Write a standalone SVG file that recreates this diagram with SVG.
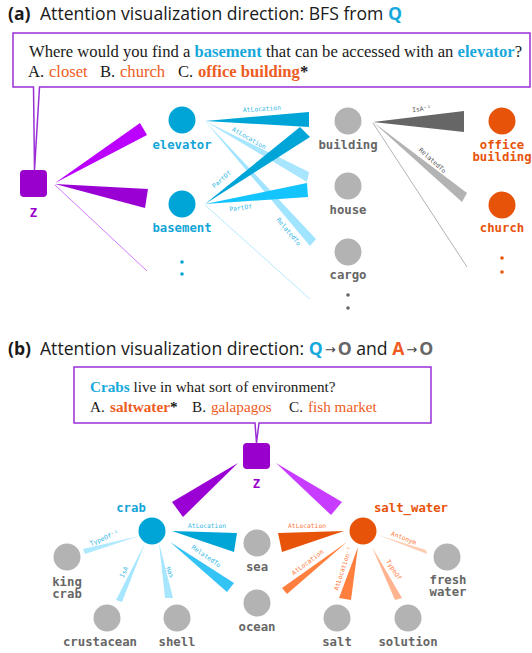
<svg xmlns="http://www.w3.org/2000/svg" width="532" height="653" viewBox="0 0 532 653">
<style>
.hd{font-family:"Open Sans","Noto Sans",sans-serif;font-size:17.6px;fill:#1a1a1a}
.hb{font-weight:bold}
.ar{font-family:"DejaVu Sans",sans-serif;font-size:13px;fill:#444}
.q{font-family:"Liberation Serif","Times New Roman",serif;font-size:16.6px;fill:#1a1a1a}
.q2{font-family:"Liberation Serif","Times New Roman",serif;font-size:15.2px;fill:#1a1a1a}
.cb{fill:#17a9dc;font-weight:bold}
.or{fill:#ee5c24}
.ob{fill:#ee5c24;font-weight:bold}
.nl{font-family:"DejaVu Sans Mono","Liberation Mono",monospace;font-weight:bold;font-size:12.3px;text-anchor:middle}
.nc{fill:#12a5d8}
.ng{fill:#666}
.no{fill:#e8530a}
.nz{fill:#9900cc}
.el{font-family:"DejaVu Sans Mono","Liberation Mono",monospace;font-size:6.3px;text-anchor:middle}
.elc{fill:#35b8e6}
.elg{fill:#555}
.elo{fill:#ff7a3a}
.box{fill:#fff;stroke:#9a2fd6;stroke-width:1.5}
.cC{fill:#00a5d8}
.cG{fill:#b3b3b3}
.cO{fill:#e8530a}
.zb{fill:#9900cc}
</style>

<!-- headers -->
<text class="hd hb" x="8" y="20">(a)</text>
<text class="hd" x="40" y="20">Attention visualization direction: BFS from <tspan class="hb" fill="#17a9dc">Q</tspan></text>

<text class="hd hb" x="8" y="355">(b)</text>
<text class="hd" x="40" y="355">Attention visualization direction: <tspan class="hb" fill="#17a9dc">Q</tspan><tspan class="ar" dx="2" dy="-1">→</tspan><tspan class="hb" fill="#666" dx="2" dy="1">O</tspan> and <tspan class="hb" fill="#ee5c24">A</tspan><tspan class="ar" dx="2" dy="-1">→</tspan><tspan class="hb" fill="#666" dx="2" dy="1">O</tspan></text>

<!-- callout (a) -->
<g id="callout-a">
<path class="box" d="M13,33 H530 V87 H39.5 L34.5,170 L33.5,87 H13 Z"/>
<text class="q" x="29" y="57">Where would you find a <tspan class="cb">basement</tspan> that can be accessed with an <tspan class="cb">elevator</tspan>?</text>
<text class="q" x="28" y="77">A. <tspan class="or" x="49">closet</tspan><tspan x="100">B. </tspan><tspan class="or" x="120">church</tspan><tspan x="178">C. </tspan><tspan class="ob" x="198">office building</tspan><tspan font-weight="bold">*</tspan></text>
</g>

<!-- callout (b) -->
<g id="callout-b">
<path class="box" d="M74,367 H431 V423 H259 L256.5,443 L255,423 H74 Z"/>
<text class="q2" x="90" y="392"><tspan class="cb">Crabs</tspan> live in what sort of environment?</text>
<text class="q2" x="90" y="412">A. <tspan class="ob" x="110">saltwater</tspan><tspan font-weight="bold">*</tspan><tspan x="192">B. </tspan><tspan class="or" x="211">galapagos</tspan><tspan x="289">C. </tspan><tspan class="or" x="308">fish market</tspan></text>
</g>

<!-- connectors -->
<g id="connectors">
<!-- (a) -->
<polygon points="55,183 140,123 147,135" fill="#bb00ff"/>
<polygon points="55,184 148,189 145,208" fill="#9a00d4"/>
<line x1="55" y1="185" x2="147" y2="271" stroke="#d27aff" stroke-width="1"/>

<polygon points="205,121 309,172 307,182" fill="#a8e6ff"/>
<polygon points="205,121 316,239 310,246" fill="#a0e4ff"/>
<line x1="205" y1="205" x2="310" y2="299" stroke="#b5ebff" stroke-width="1"/>
<polygon points="205,204 307,183 308,197" fill="#14c4ff"/>
<polygon points="205,121 309,112 309,127" fill="#00a5d8"/>
<polygon points="205,204 300,127 310,137" fill="#00a5d8"/>

<polygon points="373,122 464,111 464,132" fill="#666"/>
<polygon points="373,122 467,193 462,202" fill="#b3b3b3"/>
<line x1="373" y1="123" x2="467" y2="267" stroke="#b3b3b3" stroke-width="1"/>

<text class="el elc" transform="translate(262,111) rotate(-4)">AtLocation</text>
<text class="el elc" transform="translate(248,140) rotate(30)">AtLocation</text>
<text class="el elc" transform="translate(287,233) rotate(50)">RelatedTo</text>
<text class="el elc" transform="translate(223,181) rotate(-42)">PartOf</text>
<text class="el elc" transform="translate(241,210) rotate(-8)">PartOf</text>
<text class="el elg" transform="translate(422,111) rotate(-8)">IsA⁻¹</text>
<text class="el elg" transform="translate(431,162) rotate(42)">RelatedTo</text>

<!-- (b) -->
<polygon points="238,463 172,502 183,517" fill="#9a00d4"/>
<polygon points="276,463 342,502 331,515" fill="#c83cff"/>
<polygon points="172,531 237,533 234,552" fill="#00a5d8"/>
<polygon points="170,542 234,583 227,592" fill="#33c3f5"/>
<polygon points="139,536 83,549 85,554" fill="#aee9ff"/>
<polygon points="145,543 116,600 122,602" fill="#a6e6ff"/>
<polygon points="159,543 165,598 173,598" fill="#a6e6ff"/>
<polygon points="344,531 278,533 282,552" fill="#e8530a"/>
<polygon points="347,542 282,588 287,594" fill="#ff7f3f"/>
<polygon points="358,547 339,598 351,600" fill="#ff7f3f"/>
<polygon points="372,547 395,600 402,598" fill="#ffb48f"/>
<polygon points="378,535 426,550 427,554" fill="#ffcdb3"/>

<text class="el elc" transform="translate(207,528)">AtLocation</text>
<text class="el elc" transform="translate(205,558) rotate(35)">RelatedTo</text>
<text class="el elc" transform="translate(105,540) rotate(-23)">TypeOf⁻¹</text>
<text class="el elc" transform="translate(126,573) rotate(-65)">IsA</text>
<text class="el elc" transform="translate(168,573) rotate(70)">Has</text>
<text class="el elo" transform="translate(307,528)">AtLocation</text>
<text class="el elo" transform="translate(309,564) rotate(-37)">AtLocation</text>
<text class="el elo" transform="translate(345,569) rotate(-72)">AtLocation⁻¹</text>
<text class="el elo" transform="translate(392,571) rotate(57)">TypeOf</text>
<text class="el elo" transform="translate(403,540) rotate(21)">Antonym</text>
</g>

<!-- nodes (a) -->
<g id="z-a"><rect class="zb" x="20" y="170" width="27" height="27" rx="4"/><text class="nl nz" x="33.5" y="217">Z</text></g>
<g id="elevator"><circle class="cC" cx="182" cy="120" r="13.5"/><text class="nl nc" x="182" y="149">elevator</text></g>
<g id="basement"><circle class="cC" cx="182" cy="204" r="13.5"/><text class="nl nc" x="182" y="232">basement</text></g>
<g id="dots-c"><circle class="cC" cx="182" cy="262" r="1.8"/><circle class="cC" cx="182" cy="274" r="1.8"/></g>
<g id="building"><circle class="cG" cx="348" cy="121" r="13.5"/><text class="nl ng" x="348" y="149">building</text></g>
<g id="house"><circle class="cG" cx="348" cy="186" r="13.5"/><text class="nl ng" x="348" y="214">house</text></g>
<g id="cargo"><circle class="cG" cx="348" cy="252" r="13.5"/><text class="nl ng" x="348" y="279">cargo</text></g>
<g id="dots-g"><circle fill="#666" cx="348" cy="295" r="1.8"/><circle fill="#666" cx="348" cy="308" r="1.8"/></g>
<g id="office-building"><circle class="cO" cx="502" cy="121" r="13.5"/><text class="nl no" x="502" y="148.5">office</text><text class="nl no" x="502" y="161">building</text></g>
<g id="church"><circle class="cO" cx="502" cy="205" r="13.5"/><text class="nl no" x="502" y="232">church</text></g>
<g id="dots-o"><circle class="cO" cx="502" cy="258" r="1.8"/><circle class="cO" cx="502" cy="272" r="1.8"/></g>

<!-- nodes (b) -->
<g id="z-b"><rect class="zb" x="243" y="443" width="27" height="26" rx="4"/><text class="nl nz" x="256.5" y="488">Z</text></g>
<g id="crab"><circle class="cC" cx="152" cy="531" r="13.5"/><text class="nl nc" x="131" y="512" font-size="13.5">crab</text></g>
<g id="salt_water"><circle class="cO" cx="363" cy="531" r="13.5"/><text class="nl no" x="411" y="512" font-size="13.5">salt_water</text></g>
<g id="king-crab"><circle class="cG" cx="67" cy="557" r="13.5"/><text class="nl ng" x="67" y="585.5">king</text><text class="nl ng" x="67" y="598">crab</text></g>
<g id="crustacean"><circle class="cG" cx="107" cy="618" r="13.5"/><text class="nl ng" x="100" y="646">crustacean</text></g>
<g id="shell"><circle class="cG" cx="177" cy="618" r="13.5"/><text class="nl ng" x="177" y="646">shell</text></g>
<g id="sea"><circle class="cG" cx="257" cy="543" r="13.5"/><text class="nl ng" x="257" y="571">sea</text></g>
<g id="ocean"><circle class="cG" cx="257" cy="603" r="13.5"/><text class="nl ng" x="257" y="631">ocean</text></g>
<g id="fresh-water"><circle class="cG" cx="447" cy="557" r="13.5"/><text class="nl ng" x="448" y="583.5">fresh</text><text class="nl ng" x="448" y="596">water</text></g>
<g id="salt"><circle class="cG" cx="337" cy="618" r="13.5"/><text class="nl ng" x="337" y="646">salt</text></g>
<g id="solution"><circle class="cG" cx="408" cy="618" r="13.5"/><text class="nl ng" x="408" y="646">solution</text></g>
</svg>
